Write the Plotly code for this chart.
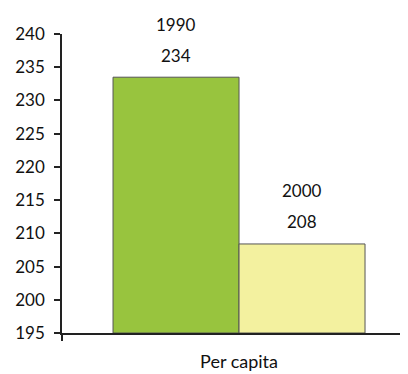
import plotly.graph_objects as go

categories = ["Per capita"]
years = ["1990", "2000"]
values = [233.5, 208.4]
value_labels = ["234", "208"]
colors = ["#98c43e", "#f3f19f"]

x_pos = [0, 1]

fig = go.Figure()
fig.add_trace(go.Bar(
    x=x_pos, y=[v - 195 for v in values], base=195, width=1,
    marker=dict(color=colors, line=dict(color="#555555", width=1)),
    showlegend=False, hoverinfo="skip",
))

font = dict(family="Lato, 'Open Sans', sans-serif", size=17, color="#111111")
for xp, v, yr, lab in zip(x_pos, values, years, value_labels):
    fig.add_annotation(x=xp, y=v, text=yr, showarrow=False, yanchor="middle",
                       yshift=53, font=font)
    fig.add_annotation(x=xp, y=v, text=lab, showarrow=False, yanchor="middle",
                       yshift=22, font=font)

fig.update_layout(
    width=400, height=366,
    margin=dict(l=54, r=0, t=26, b=41),
    plot_bgcolor="white", paper_bgcolor="white",
    font=font,
    xaxis=dict(range=[-0.905, 1.841], tickvals=[0.5], ticktext=categories,
               showline=True, linecolor="#222222", linewidth=1.5,
               ticks="", showgrid=False, zeroline=False,
               ticklabelstandoff=12, tickfont=dict(size=18),
               minor=dict(ticks="outside", tickvals=[-0.905], ticklen=6,
                          tickcolor="#222222", tickwidth=1.5)),
    yaxis=dict(range=[195, 240], dtick=5, tick0=195,
               showline=True, linecolor="#222222", linewidth=1.5,
               ticks="outside", ticklen=6, tickcolor="#222222", tickwidth=1.5,
               showgrid=False, zeroline=False, ticklabelstandoff=6),
)

fig.write_html("out.html")
